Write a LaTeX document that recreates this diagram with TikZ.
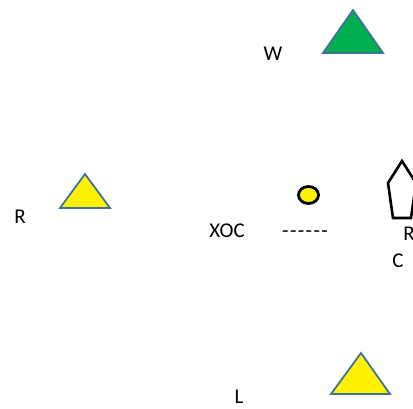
\documentclass[tikz,border=0pt]{standalone}
\usepackage{fontspec}
\setmainfont{Carlito}
\usepackage{tikz}
\tikzstyle{lbl}=[inner sep=0pt, font=\fontsize{21}{25}\selectfont]
\tikzstyle{tri}=[draw={rgb,255:red,65;green,113;blue,156}, line width=1.8pt, line join=miter]
\tikzstyle{gtri}=[tri, fill={rgb,255:red,0;green,176;blue,80}]
\tikzstyle{ytri}=[tri, fill=yellow]
\newcommand{\dk}{\kern1.4pt}

\begin{document}
\begin{tikzpicture}[x=1pt, y=-1pt]
        \useasboundingbox (0, 0) rectangle (413, 408);
        \node[lbl] (W) at (273, 54) {W};
        \node[lbl] (Rleft) at (20, 217) {R};
        \node[lbl] (XOC) at (227, 231) {XOC};
        \node[lbl] (dash) at (305, 234) {-\dk-\dk-\dk-\dk-\dk-};
        \node[lbl] (Rright) at (409, 234) {R};
        \node[lbl] (C) at (398, 261) {C};
        \node[lbl] (L) at (239, 397) {L};
        \draw[gtri] (353, 10) -- (383, 53) -- (323, 53) -- cycle;
        \draw[ytri] (85, 174) -- (110, 208) -- (60, 208) -- cycle;
        \draw[ytri] (361, 353) -- (390, 394) -- (331, 394) -- cycle;
        \draw[line width=2.8pt, fill=yellow] (308.5, 195) ellipse (10pt and 8.5pt);
        \draw[line width=2.6pt, line join=miter] (402, 161) -- (416, 183) -- (411, 218) -- (393, 218) -- (388, 183) -- cycle;
    \end{tikzpicture}
\end{document}
